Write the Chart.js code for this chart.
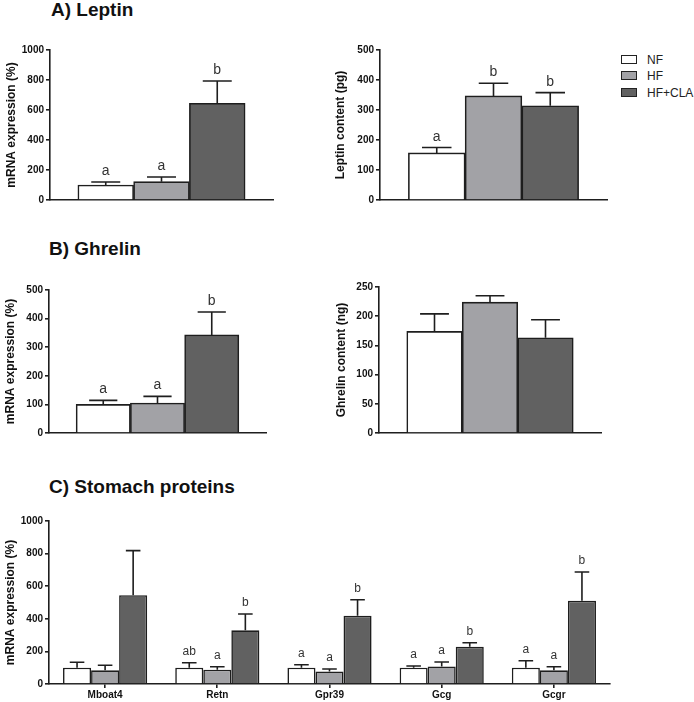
<!DOCTYPE html>
<html>
<head>
<meta charset="utf-8">
<script src="https://cdn.jsdelivr.net/npm/chart.js@4"></script>
<style>
  html, body { margin: 0; padding: 0; background: #fff; }
  body { width: 694px; height: 702px; position: relative; overflow: hidden; font-family: "Liberation Sans", Arial, sans-serif; }
  canvas { position: absolute; }
  .ptitle { position: absolute; font-size: 19px; font-weight: bold; line-height: 19px; color: #111; white-space: nowrap; }
  .leg { position: absolute; left: 621px; font-size: 12px; color: #222; }
  .leg span.box { position: absolute; left: 0; width: 14px; height: 7px; border: 1.5px solid #222; }
  .leg span.txt { position: absolute; left: 26px; top: -7px; white-space: nowrap; }
</style>
</head>
<body>
<div class="ptitle" style="left:51px; top:0px;">A) Leptin</div>
<div class="ptitle" style="left:49px; top:239px;">B) Ghrelin</div>
<div class="ptitle" style="left:49px; top:477px;">C) Stomach proteins</div>

<div class="leg" style="top:60px;"><span class="box" style="top:-5px; background:#ffffff;"></span><span class="txt">NF</span></div>
<div class="leg" style="top:76px;"><span class="box" style="top:-5px; background:#a2a2a6;"></span><span class="txt">HF</span></div>
<div class="leg" style="top:93px;"><span class="box" style="top:-5px; background:#616161;"></span><span class="txt">HF+CLA</span></div>

<canvas id="aLeft"></canvas>
<canvas id="aRight"></canvas>
<canvas id="bLeft"></canvas>
<canvas id="bRight"></canvas>
<canvas id="cAll"></canvas>

<script>
// groups (series)
const groups = ['NF', 'HF', 'HF+CLA'];

// A) Leptin
const leptinMrna = [100, 122, 645];
const leptinMrnaSem = [20, 31, 148];
const leptinMrnaSig = ['a', 'a', 'b'];
const leptinContent = [157, 347, 314];
const leptinContentSem = [18, 42, 44];
const leptinContentSig = ['a', 'b', 'b'];

// B) Ghrelin
const ghrelinMrna = [100, 105, 343];
const ghrelinMrnaSem = [14, 23, 80];
const ghrelinMrnaSig = ['a', 'a', 'b'];
const ghrelinContent = [174, 224, 163];
const ghrelinContentSem = [30, 11, 31];
const ghrelinContentSig = ['', '', ''];

// C) Stomach proteins
const stomachGenes = ['Mboat4', 'Retn', 'Gpr39', 'Gcg', 'Gcgr'];
const stomachNF = [100, 100, 100, 100, 100];
const stomachNFSem = [33, 30, 18, 10, 43];
const stomachNFSig = ['', 'ab', 'a', 'a', 'a'];
const stomachHF = [84, 88, 77, 108, 84];
const stomachHFSem = [31, 18, 15, 27, 22];
const stomachHFSig = ['', 'a', 'a', 'a', 'a'];
const stomachCLA = [545, 329, 419, 229, 511];
const stomachCLASem = [273, 100, 98, 24, 176];
const stomachCLASig = ['', 'b', 'b', 'b', 'b'];

const fills = ['#ffffff', '#a2a2a6', '#616161'];
const ink = '#1e1e1e';
const FONT = '"Liberation Sans", Arial, Helvetica, sans-serif';

// draws upper error bar + significance letter above each bar
const errorBars = {
  id: 'errorBars',
  afterDatasetsDraw(chart, args, opts) {
    const ctx = chart.ctx;
    const yScale = chart.scales.y;
    chart.data.datasets.forEach((ds, i) => {
      const meta = chart.getDatasetMeta(i);
      meta.data.forEach((bar, j) => {
        const raw = ds.data[j];
        const val = (raw !== null && typeof raw === 'object') ? raw.y : raw;
        const yTop = yScale.getPixelForValue(val + ds.err[j]);
        const half = bar.width * 0.26;
        ctx.save();
        ctx.strokeStyle = ink;
        ctx.lineWidth = 1.6;
        ctx.beginPath();
        ctx.moveTo(bar.x, bar.y);
        ctx.lineTo(bar.x, yTop);
        ctx.moveTo(bar.x - half, yTop);
        ctx.lineTo(bar.x + half, yTop);
        ctx.stroke();
        const sig = ds.sig && ds.sig[j];
        if (sig) {
          ctx.fillStyle = '#333';
          ctx.font = opts.size + 'px ' + FONT;
          ctx.textAlign = 'center';
          ctx.textBaseline = 'alphabetic';
          ctx.fillText(sig, bar.x, yTop - opts.gap);
        }
        ctx.restore();
      });
    });
  }
};

function yAxis(max, step, title, W) {
  return {
    min: 0, max: max,
    afterFit: s => { s.width = W; },
    border: { display: true, color: ink, width: 1.6 },
    grid: { display: true, drawOnChartArea: false, drawTicks: true, tickLength: 4, color: ink, lineWidth: 1.6 },
    ticks: { stepSize: step, padding: 2, color: '#111', font: { family: FONT, size: 10, weight: 'bold' },
             callback: v => String(v) },
    title: { display: true, text: title, color: '#111', padding: { top: 4, bottom: 4 }, font: { family: FONT, size: 12, weight: 'bold' } }
  };
}

function placeCanvas(id, area, W, HX) {
  const PT = 14, PR = 8;
  const c = document.getElementById(id);
  c.style.left = (area.l - W) + 'px';
  c.style.top = (area.t - PT) + 'px';
  c.width = area.r - area.l + W + PR;
  c.height = area.b - area.t + PT + HX;
  c.style.width = c.width + 'px';
  c.style.height = c.height + 'px';
  return { c, pad: { left: 0, top: PT, right: PR, bottom: 0 } };
}

// three-bar panel (one bar per group, adjacent, on a linear x scale 0..4)
function groupPanel(id, area, W, values, sem, sig, max, step, title) {
  const { c, pad } = placeCanvas(id, area, W, 10);
  new Chart(c, {
    type: 'bar',
    data: {
      datasets: groups.map((g, i) => ({
        label: g,
        data: [{ x: i + 1, y: values[i] }],
        err: [sem[i]],
        sig: [sig[i]],
        backgroundColor: fills[i],
        borderColor: ink,
        borderWidth: 1.6,
        grouped: false,
        barPercentage: 1,
        categoryPercentage: 1
      }))
    },
    options: {
      responsive: false,
      animation: false,
      devicePixelRatio: 1,
      layout: { padding: pad },
      plugins: { legend: { display: false }, tooltip: { enabled: false }, errorBars: { size: 14, gap: 7 } },
      scales: {
        x: {
          type: 'linear', min: 0, max: 4, offset: false,
          afterFit: s => { s.height = 10; },
          ticks: { display: false },
          grid: { display: false },
          border: { display: true, color: ink, width: 1.6 }
        },
        y: yAxis(max, step, title, W)
      }
    },
    plugins: [errorBars]
  });
}

groupPanel('aLeft', { l: 50, r: 273, t: 50, b: 200 }, 50, leptinMrna, leptinMrnaSem, leptinMrnaSig, 1000, 200, 'mRNA expression (%)');
groupPanel('aRight', { l: 380, r: 607, t: 50, b: 200 }, 51, leptinContent, leptinContentSem, leptinContentSig, 500, 100, 'Leptin content (pg)');
groupPanel('bLeft', { l: 49, r: 266, t: 290, b: 433 }, 50, ghrelinMrna, ghrelinMrnaSem, ghrelinMrnaSig, 500, 100, 'mRNA expression (%)');
groupPanel('bRight', { l: 379, r: 601, t: 287, b: 433 }, 49, ghrelinContent, ghrelinContentSem, ghrelinContentSig, 250, 50, 'Ghrelin content (ng)');

// C) grouped bars per gene
(function () {
  const W = 50;
  const { c, pad } = placeCanvas('cAll', { l: 49, r: 610, t: 521, b: 684 }, W, 24);
  const series = [
    [stomachNF, stomachNFSem, stomachNFSig],
    [stomachHF, stomachHFSem, stomachHFSig],
    [stomachCLA, stomachCLASem, stomachCLASig]
  ];
  new Chart(c, {
    type: 'bar',
    data: {
      labels: stomachGenes,
      datasets: groups.map((g, i) => ({
        label: g,
        data: series[i][0],
        err: series[i][1],
        sig: series[i][2],
        backgroundColor: fills[i],
        borderColor: ink,
        borderWidth: 1.6,
        barPercentage: 1,
        categoryPercentage: 0.75
      }))
    },
    options: {
      responsive: false,
      animation: false,
      devicePixelRatio: 1,
      layout: { padding: pad },
      plugins: { legend: { display: false }, tooltip: { enabled: false }, errorBars: { size: 12, gap: 8 } },
      scales: {
        x: {
          afterFit: s => { s.height = 24; },
          border: { display: true, color: ink, width: 1.6 },
          grid: { display: true, offset: false, drawOnChartArea: false, drawTicks: true, tickLength: 4, color: ink, lineWidth: 1.6 },
          ticks: { padding: 1, color: '#111', font: { family: FONT, size: 10, weight: 'bold' } }
        },
        y: yAxis(1000, 200, 'mRNA expression (%)', W)
      }
    },
    plugins: [errorBars]
  });
})();
</script>
</body>
</html>
